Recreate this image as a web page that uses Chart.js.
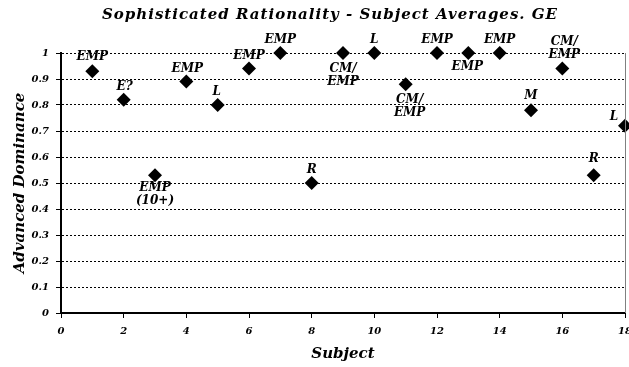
<!DOCTYPE html>
<html>
<head>
<meta charset="utf-8">
<script src="https://cdn.jsdelivr.net/npm/chart.js@4/dist/chart.umd.min.js"></script>
<style>
  html, body { margin: 0; padding: 0; background: #fff; }
  #wrap { width: 629px; height: 367px; }
</style>
</head>
<body>
<div id="wrap"><canvas id="chart" width="629" height="367"></canvas></div>
<script>
// Subject averages of advanced dominance, with the strategy note printed at each point
const subjects = [1, 2, 3, 4, 5, 6, 7, 8, 9, 10, 11, 12, 13, 14, 15, 16, 17, 18];
const advancedDominance = [0.93, 0.82, 0.53, 0.89, 0.80, 0.94, 1.00, 0.50, 1.00,
                           1.00, 0.88, 1.00, 1.00, 1.00, 0.78, 0.94, 0.53, 0.72];
const strategyNotes = [
  ["EMP"], ["E?"], ["EMP", "(10+)"], ["EMP"], ["L"], ["EMP"], ["EMP"], ["R"],
  ["CM/", "EMP"], ["L"], ["CM/", "EMP"], ["EMP"], ["EMP"], ["EMP"], ["M"],
  ["CM/", "EMP"], ["R"], ["L"]
];
const xTickValues = [0, 2, 4, 6, 8, 10, 12, 14, 16, 18];
const yTickValues = [0, 0.1, 0.2, 0.3, 0.4, 0.5, 0.6, 0.7, 0.8, 0.9, 1];

const chartTitle = "Sophisticated Rationality - Subject Averages. GE";
const xTitle = "Subject";
const yTitle = "Advanced Dominance";

// Where each note sits relative to its marker: [dx, dy] to the centre of the
// line nearest the marker; negative dy stacks lines upward, positive downward.
const notePlacement = [
  [0, -14], [1, -13], [0, 13], [1, -13], [-1, -13], [0, -13], [0, -13], [0, -13],
  [0, 16], [0, -13], [4, 16], [0, -13], [-1, 14], [0, -13], [0, -14],
  [2, -14], [0, -16], [-11, -9]
];

const SERIF = '"DejaVu Serif", "Liberation Serif", serif';
const tickFont = { family: SERIF, size: 10, style: 'italic', weight: 'bold' };
const axisTitleFont = { family: SERIF, size: 15, style: 'italic', weight: 'bold' };

const points = subjects.map((s, i) => ({ x: s, y: advancedDominance[i] }));

const noteLabels = {
  id: 'noteLabels',
  afterDatasetsDraw(chart) {
    const ctx = chart.ctx;
    const meta = chart.getDatasetMeta(0);
    ctx.save();
    ctx.font = 'italic bold 12px ' + SERIF;
    ctx.fillStyle = '#000';
    ctx.textAlign = 'center';
    ctx.textBaseline = 'middle';
    const lineH = 13;
    meta.data.forEach((pt, i) => {
      const lines = strategyNotes[i];
      const [dx, dy] = notePlacement[i];
      const n = lines.length;
      lines.forEach((txt, k) => {
        const y = dy < 0 ? pt.y + dy - (n - 1 - k) * lineH : pt.y + dy + k * lineH;
        ctx.fillText(txt, pt.x + dx, y);
      });
    });
    ctx.restore();
  }
};

const frameAndTitle = {
  id: 'frameAndTitle',
  afterDraw(chart) {
    const { ctx, chartArea } = chart;
    ctx.save();
    ctx.strokeStyle = '#808080';
    ctx.lineWidth = 1;
    ctx.beginPath();
    ctx.moveTo(chartArea.right + 0.5, chartArea.top);
    ctx.lineTo(chartArea.right + 0.5, chartArea.bottom);
    ctx.stroke();
    ctx.font = 'italic bold 15px ' + SERIF;
    ctx.letterSpacing = '1px';
    ctx.fillStyle = '#000';
    ctx.textAlign = 'center';
    ctx.textBaseline = 'middle';
    ctx.fillText(chartTitle, 330, 15);
    ctx.restore();
  }
};

new Chart(document.getElementById('chart'), {
  type: 'scatter',
  data: {
    datasets: [{
      data: points,
      pointStyle: 'rectRot',
      pointRadius: 7,
      pointHoverRadius: 7,
      backgroundColor: '#000',
      borderColor: '#000',
      borderWidth: 0,
      clip: false
    }]
  },
  options: {
    responsive: false,
    animation: false,
    events: [],
    layout: { autoPadding: false, padding: { top: 53, right: 4, bottom: 0, left: 0 } },
    plugins: {
      legend: { display: false },
      title: { display: false },
      tooltip: { enabled: false }
    },
    scales: {
      x: {
        type: 'linear',
        position: 'bottom',
        min: 0,
        max: 18,
        afterBuildTicks: s => { s.ticks = xTickValues.map(v => ({ value: v })); },
        afterFit: s => { s.paddingLeft = 0; s.paddingRight = 0; s.height = 54; },
        ticks: {
          font: tickFont, color: '#000', padding: 7,
          maxRotation: 0, autoSkip: false,
          callback: v => String(v)
        },
        grid: {
          drawOnChartArea: false, drawTicks: true, tickLength: 5,
          tickColor: '#000', tickWidth: 1
        },
        border: { color: '#000', width: 2 },
        title: {
          display: true, text: xTitle, font: axisTitleFont, color: '#000',
          padding: { top: 0, bottom: 4 }
        }
      },
      y: {
        type: 'linear',
        position: 'left',
        min: 0,
        max: 1,
        afterBuildTicks: s => { s.ticks = yTickValues.map(v => ({ value: v })); },
        afterFit: s => { s.width = 61; },
        ticks: {
          font: tickFont, color: '#000', padding: 7,
          callback: v => String(v)
        },
        grid: {
          color: '#000', lineWidth: 1, drawTicks: true, tickLength: 5,
          tickColor: '#000', tickWidth: 1
        },
        border: { color: '#000', width: 2, dash: [2, 2] },
        title: {
          display: true, text: yTitle, font: axisTitleFont, color: '#000',
          padding: { top: 11, bottom: 0 }
        }
      }
    }
  },
  plugins: [noteLabels, frameAndTitle]
});
</script>
</body>
</html>
